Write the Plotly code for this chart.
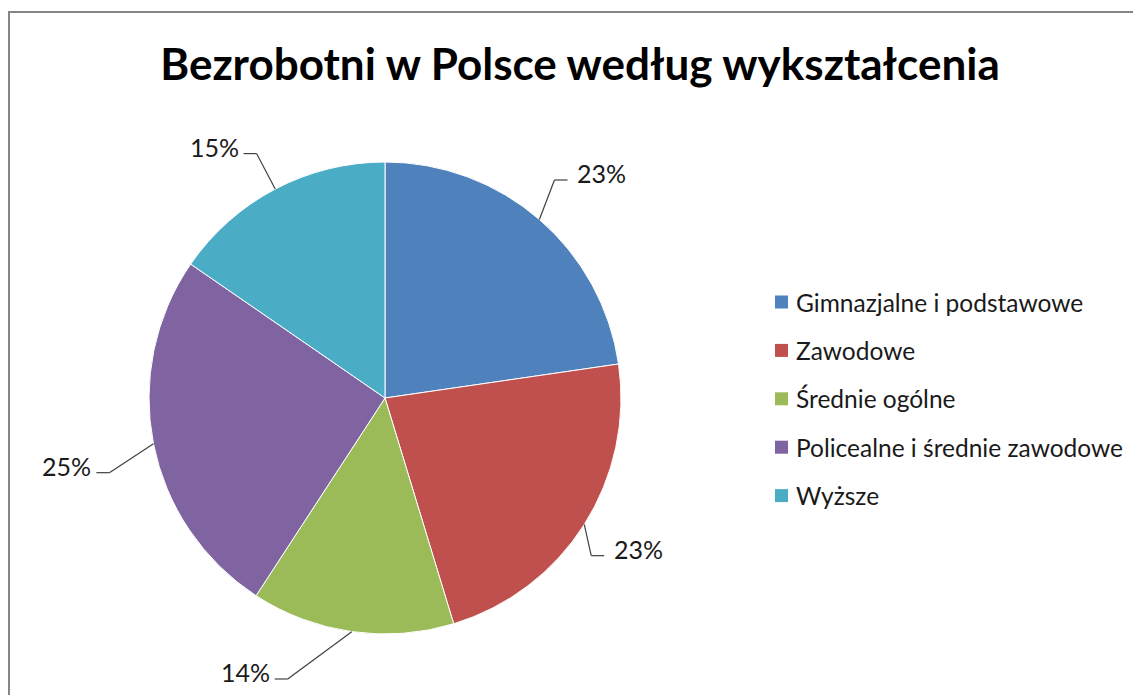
import math
import plotly.graph_objects as go

# ---- data ----
labels = ["Gimnazjalne i podstawowe", "Zawodowe", "Średnie ogólne",
          "Policealne i średnie zawodowe", "Wyższe"]
values = [22.7, 22.6, 13.9, 25.4, 15.4]
colors = ["#4F81BD", "#C0504D", "#9BBB59", "#8064A2", "#4BACC6"]
title_text = "Bezrobotni w Polsce według wykształcenia"

# label placement tweaks (radius factor, angular shift in degrees)
label_r = [1.17, 1.10, 1.26, 1.21, 1.17]
label_da = [-3, 5, 11, -4, 0]

# ---- layout geometry (pixels in the page) ----
W, H = 1141, 695
OFF = 8  # page body margin
cx, cy, R = 385, 398, 236


def px(x):
    return (x - OFF) / W


def py(y):
    return 1 - (y - OFF) / H


fig = go.Figure()
fig.add_trace(go.Pie(
    labels=labels, values=values, sort=False, direction="clockwise",
    rotation=0, marker=dict(colors=colors, line=dict(color="white", width=1)),
    textinfo="none", hoverinfo="label+percent", showlegend=False,
    domain=dict(x=[px(cx - R), px(cx + R)], y=[py(cy + R), py(cy - R)]),
))

shapes = []
annotations = []

# leader lines and percent labels derived from the data
total = sum(values)
cum = 0.0
for v, lr, da in zip(values, label_r, label_da):
    mid = (cum + v / 2) / total * 2 * math.pi
    cum += v
    sx, sy = cx + R * math.sin(mid), cy - R * math.cos(mid)
    a2 = mid + math.radians(da)
    ex, ey = cx + lr * R * math.sin(a2), cy - lr * R * math.cos(a2)
    right = math.sin(mid) >= 0
    hx = ex + (13 if right else -13)
    line = dict(color="#404040", width=1.2)
    shapes.append(dict(type="line", xref="paper", yref="paper",
                       x0=px(sx), y0=py(sy), x1=px(ex), y1=py(ey), line=line))
    shapes.append(dict(type="line", xref="paper", yref="paper",
                       x0=px(ex), y0=py(ey), x1=px(hx), y1=py(ey), line=line))
    pct = f"{round(v / total * 100)}%"
    annotations.append(dict(
        text=pct, xref="paper", yref="paper", showarrow=False,
        x=px(hx + (8 if right else -3)), y=py(ey - 7),
        xanchor="left" if right else "right", yanchor="middle",
        font=dict(family="Lato", size=25, color="#1a1a1a")))

# legend (squares + text)
leg_x, leg_y0, leg_dy = 775, 302, 48.4
for i, (lab, col) in enumerate(zip(labels, colors)):
    yy = leg_y0 + i * leg_dy
    shapes.append(dict(type="rect", xref="paper", yref="paper",
                       x0=px(leg_x), x1=px(leg_x + 13),
                       y0=py(yy + 6.5), y1=py(yy - 6.5),
                       fillcolor=col, line=dict(width=0)))
    annotations.append(dict(
        text=lab, xref="paper", yref="paper", showarrow=False,
        x=px(leg_x + 19), y=py(yy), xanchor="left", yanchor="middle",
        font=dict(family="Lato", size=24.5, color="#1a1a1a")))

# chart frame
shapes.append(dict(type="rect", xref="paper", yref="paper",
                   x0=px(9), y0=py(12), x1=px(W + 30), y1=py(H + 30),
                   line=dict(color="#868686", width=2), fillcolor="rgba(0,0,0,0)"))

fig.update_layout(
    width=W, height=H, margin=dict(l=0, r=0, t=0, b=0),
    paper_bgcolor="white", plot_bgcolor="white",
    title=dict(text=title_text, x=px(580), xanchor="center",
               y=py(65), yanchor="middle", yref="paper",
               font=dict(family="Lato", size=44, color="black", weight=700)),
    shapes=shapes, annotations=annotations, showlegend=False,
)

fig.write_html("out.html")
